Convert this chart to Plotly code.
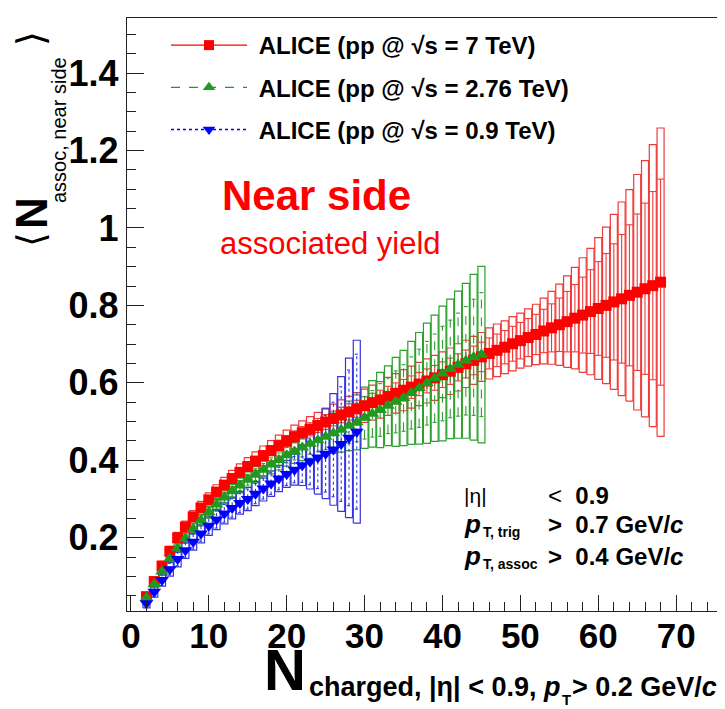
import plotly.graph_objects as go

# ---------------- data ----------------
n_7tev = list(range(2, 69))
mean_7tev = [0.048, 0.087, 0.127, 0.165, 0.200, 0.228, 0.254, 0.277, 0.298, 0.318,
             0.336, 0.353, 0.369, 0.384, 0.398, 0.412, 0.425, 0.438, 0.450, 0.461,
             0.471, 0.480, 0.490, 0.499, 0.508, 0.517, 0.525, 0.533, 0.541, 0.549,
             0.556, 0.565, 0.573, 0.581, 0.589, 0.597, 0.605, 0.613, 0.621, 0.630,
             0.640, 0.649, 0.658, 0.667, 0.676, 0.684, 0.692, 0.701, 0.709, 0.717,
             0.725, 0.734, 0.742, 0.750, 0.758, 0.767, 0.775, 0.784, 0.792, 0.800,
             0.809, 0.817, 0.826, 0.834, 0.843, 0.851, 0.860]
sys_7tev = [0.010, 0.011, 0.012, 0.013, 0.014, 0.015, 0.016, 0.017, 0.018, 0.019,
            0.020, 0.021, 0.022, 0.023, 0.024, 0.025, 0.026, 0.027, 0.028, 0.030,
            0.031, 0.033, 0.034, 0.036, 0.037, 0.039, 0.040, 0.042, 0.043, 0.045,
            0.047, 0.049, 0.051, 0.053, 0.054, 0.056, 0.057, 0.058, 0.059, 0.060,
            0.061, 0.061, 0.062, 0.063, 0.066, 0.068, 0.068, 0.070, 0.071, 0.074,
            0.078, 0.085, 0.094, 0.105, 0.118, 0.131, 0.148, 0.163, 0.183, 0.202,
            0.226, 0.250, 0.273, 0.304, 0.331, 0.364, 0.398]
err_7tev = [0.005, 0.006, 0.006, 0.007, 0.007, 0.008, 0.008, 0.009, 0.009, 0.010,
            0.010, 0.011, 0.011, 0.012, 0.012, 0.013, 0.013, 0.014, 0.014, 0.015,
            0.016, 0.017, 0.018, 0.019, 0.019, 0.020, 0.021, 0.022, 0.023, 0.024,
            0.025, 0.026, 0.027, 0.028, 0.029, 0.030, 0.031, 0.032, 0.033, 0.034,
            0.035, 0.036, 0.037, 0.038, 0.040, 0.042, 0.043, 0.045, 0.047, 0.049,
            0.052, 0.056, 0.062, 0.069, 0.078, 0.087, 0.098, 0.108, 0.121, 0.134,
            0.150, 0.166, 0.182, 0.202, 0.221, 0.243, 0.266]

n_276tev = list(range(2, 46))
mean_276tev = [0.045, 0.080, 0.113, 0.146, 0.173, 0.198, 0.223, 0.245, 0.266, 0.286,
               0.304, 0.320, 0.335, 0.350, 0.363, 0.376, 0.389, 0.401, 0.413, 0.423,
               0.433, 0.443, 0.452, 0.461, 0.470, 0.479, 0.489, 0.498, 0.510, 0.520,
               0.530, 0.541, 0.551, 0.561, 0.574, 0.586, 0.599, 0.612, 0.624, 0.636,
               0.647, 0.657, 0.666, 0.673]
sys_276tev = [0.009, 0.009, 0.010, 0.010, 0.011, 0.012, 0.013, 0.014, 0.015, 0.016,
              0.017, 0.018, 0.019, 0.020, 0.021, 0.022, 0.024, 0.026, 0.028, 0.031,
              0.034, 0.038, 0.042, 0.047, 0.052, 0.058, 0.064, 0.071, 0.079, 0.086,
              0.097, 0.103, 0.115, 0.123, 0.133, 0.144, 0.155, 0.163, 0.174, 0.180,
              0.190, 0.200, 0.214, 0.228]
err_276tev = [0.006, 0.006, 0.007, 0.007, 0.008, 0.008, 0.009, 0.010, 0.010, 0.011,
              0.012, 0.013, 0.013, 0.014, 0.015, 0.016, 0.017, 0.018, 0.020, 0.022,
              0.024, 0.027, 0.030, 0.033, 0.037, 0.041, 0.045, 0.050, 0.055, 0.060,
              0.068, 0.072, 0.080, 0.086, 0.093, 0.101, 0.108, 0.114, 0.122, 0.126,
              0.133, 0.140, 0.150, 0.160]

n_09tev = list(range(2, 30))
mean_09tev = [0.031, 0.061, 0.091, 0.119, 0.145, 0.168, 0.190, 0.211, 0.231, 0.247,
              0.263, 0.277, 0.290, 0.300, 0.314, 0.327, 0.340, 0.353, 0.365, 0.376,
              0.387, 0.397, 0.407, 0.417, 0.428, 0.442, 0.458, 0.474]
sys_09tev = [0.012, 0.014, 0.016, 0.018, 0.020, 0.021, 0.022, 0.024, 0.025, 0.026,
             0.027, 0.028, 0.029, 0.030, 0.031, 0.032, 0.033, 0.034, 0.035, 0.040,
             0.052, 0.071, 0.094, 0.116, 0.144, 0.174, 0.206, 0.236]
err_09tev = [0.010, 0.012, 0.014, 0.015, 0.017, 0.018, 0.019, 0.020, 0.021, 0.022,
             0.023, 0.024, 0.025, 0.026, 0.026, 0.027, 0.028, 0.029, 0.030, 0.034,
             0.044, 0.060, 0.080, 0.099, 0.122, 0.148, 0.175, 0.200]

series_names = ["ALICE (pp @ √s = 7 TeV)",
                "ALICE (pp @ √s = 2.76 TeV)",
                "ALICE (pp @ √s = 0.9 TeV)"]

x_ticks = [0, 10, 20, 30, 40, 50, 60, 70]
y_ticks = [0.2, 0.4, 0.6, 0.8, 1.0, 1.2, 1.4]

# ---------------- styles ----------------
RED, GREEN, BLUE = "#ff0000", "#1f9a1f", "#0000ff"
RED_BOX, GREEN_BOX, BLUE_BOX = "#f03a3a", "#2ca02c", "#3535e0"

OFF = 8                      # page body margin
W, H = 717, 701
ML, MR, MT, MB = 119, 6, 10, 98
PW, PH = W - ML - MR, H - MT - MB


def px(x):   # screen pixel -> paper
    return (x - OFF - ML) / PW


def py(y):
    return 1 - (y - OFF - MT) / PH


def box_path(xs, ys, half, w):
    bx, by = [], []
    for x, y, h in zip(xs, ys, half):
        bx += [x - w, x + w, x + w, x - w, x - w, None]
        by += [y - h, y - h, y + h, y + h, y - h, None]
    return bx, by


def err_path(xs, ys, half, cw):
    ex, ey = [], []
    for x, y, h in zip(xs, ys, half):
        ex += [x, x, None, x - cw, x + cw, None, x - cw, x + cw, None]
        ey += [y - h, y + h, None, y - h, y - h, None, y + h, y + h, None]
    return ex, ey


fig = go.Figure()

sets = [
    (n_7tev, mean_7tev, sys_7tev, err_7tev, RED, RED_BOX, "solid", "square", 11, 0.45),
    (n_276tev, mean_276tev, sys_276tev, err_276tev, GREEN, GREEN_BOX, "dash", "triangle-up", 12, 0.25),
    (n_09tev, mean_09tev, sys_09tev, err_09tev, BLUE, BLUE_BOX, "dot", "triangle-down", 12, 0.25),
]

for xs, ys, sy, er, col, bcol, dash, sym, ms, cw in sets:
    bx, by = box_path(xs, ys, sy, 0.45)
    fig.add_trace(go.Scatter(x=bx, y=by, mode="lines", line=dict(color=bcol, width=1.2),
                             showlegend=False, hoverinfo="skip"))
for xs, ys, sy, er, col, bcol, dash, sym, ms, cw in sets:
    ex, ey = err_path(xs, ys, er, cw)
    fig.add_trace(go.Scatter(x=ex, y=ey, mode="lines", line=dict(color=bcol, width=1.1, dash=dash),
                             showlegend=False, hoverinfo="skip"))
for (xs, ys, sy, er, col, bcol, dash, sym, ms, cw), name in zip(sets, series_names):
    fig.add_trace(go.Scatter(x=xs, y=ys, mode="markers",
                             marker=dict(symbol=sym, size=ms, color=col, line=dict(width=0)),
                             showlegend=False, name=name))
for i, ((xs, ys, sy, er, col, bcol, dash, sym, ms, cw), name) in enumerate(zip(sets, series_names)):
    fig.add_trace(go.Scatter(x=[None], y=[None], mode="lines+markers", name="\u00a0" + name,
                             legendgroup=str(i),
                             line=dict(color=col, width=1.3, dash=dash),
                             marker=dict(symbol=sym, size=ms - 1, color=col)))

FONT = "Liberation Sans, Arial, sans-serif"

fig.update_layout(
    width=W, height=H,
    margin=dict(l=ML, r=MR, t=MT, b=MB),
    paper_bgcolor="white", plot_bgcolor="white",
    font=dict(family=FONT, color="black"),
    showlegend=True,
    legend=dict(x=px(166), y=py(23), xanchor="left", yanchor="top",
                bgcolor="rgba(0,0,0,0)", borderwidth=0,
                font=dict(size=24, family=FONT, weight="bold"),
                itemwidth=76, tracegroupgap=8, traceorder="grouped"),
    xaxis=dict(range=[-0.5, 75.5], tickvals=x_ticks, ticks="inside", ticklen=16, tickwidth=1.3,
               tickcolor="#222", showline=True, mirror=True, linecolor="#222", linewidth=1.3,
               showgrid=False, zeroline=False, ticklabelstandoff=-6,
               tickfont=dict(size=35, family=FONT, weight="bold"),
               minor=dict(dtick=2, tick0=0, ticks="inside", ticklen=9, tickwidth=1.1, tickcolor="#222")),
    yaxis=dict(range=[0.011, 1.542], tickvals=y_ticks, ticks="inside", ticklen=17, tickwidth=1.3,
               tickcolor="#222", showline=True, mirror=True, linecolor="#222", linewidth=1.3,
               showgrid=False, zeroline=False,
               tickfont=dict(size=36, family=FONT, weight="bold"),
               minor=dict(dtick=0.05, tick0=0, ticks="inside", ticklen=9, tickwidth=1.1, tickcolor="#222")),
)

ann = []


def A(text, x, y, size, xanchor="center", yanchor="middle", color="black", angle=0, bold=False, family=FONT):
    ann.append(dict(text=text, x=px(x), y=py(y), xref="paper", yref="paper",
                    xanchor=xanchor, yanchor=yanchor, showarrow=False, textangle=angle,
                    font=dict(size=size, color=color, family=family,
                              weight="bold" if bold else "normal")))


# Near side text
A("Near side", 316, 195, 42, color="#ff0000", bold=True)
A("associated yield", 330, 243, 31, color="#ff0000")

# y-axis title (rotated)
A("⟨", 31, 240, 38, angle=-90)
A("N", 31, 213, 44, angle=-90, bold=True)
A("assoc, near side", 59, 130, 20, angle=-90)
A("⟩", 31, 39, 38, angle=-90)

# x-axis title
A("N", 285, 669, 58, bold=True)
A("charged, |η| < 0.9, <i>p</i>", 307, 687, 27, xanchor="left", bold=True)
A("T", 566, 699, 15, bold=True)
A("> 0.2 GeV/<i>c</i>", 719, 687, 27, xanchor="right", bold=True)

# cuts text
A("|η|", 462, 495, 21, xanchor="left")
A("<  <b>0.9</b>", 546, 495, 24, xanchor="left")
A("<b><i>p</i></b>", 462, 524, 26, xanchor="left")
A("<b>T, trig</b>", 481, 532, 14, xanchor="left")
A("<b>>  0.7 GeV/<i>c</i></b>", 546, 524, 24, xanchor="left")
A("<b><i>p</i></b>", 462, 556, 26, xanchor="left")
A("<b>T, assoc</b>", 481, 564, 14, xanchor="left")
A("<b>>  0.4 GeV/<i>c</i></b>", 546, 556, 24, xanchor="left")

fig.update_layout(annotations=ann)

fig.write_html("out.html")
